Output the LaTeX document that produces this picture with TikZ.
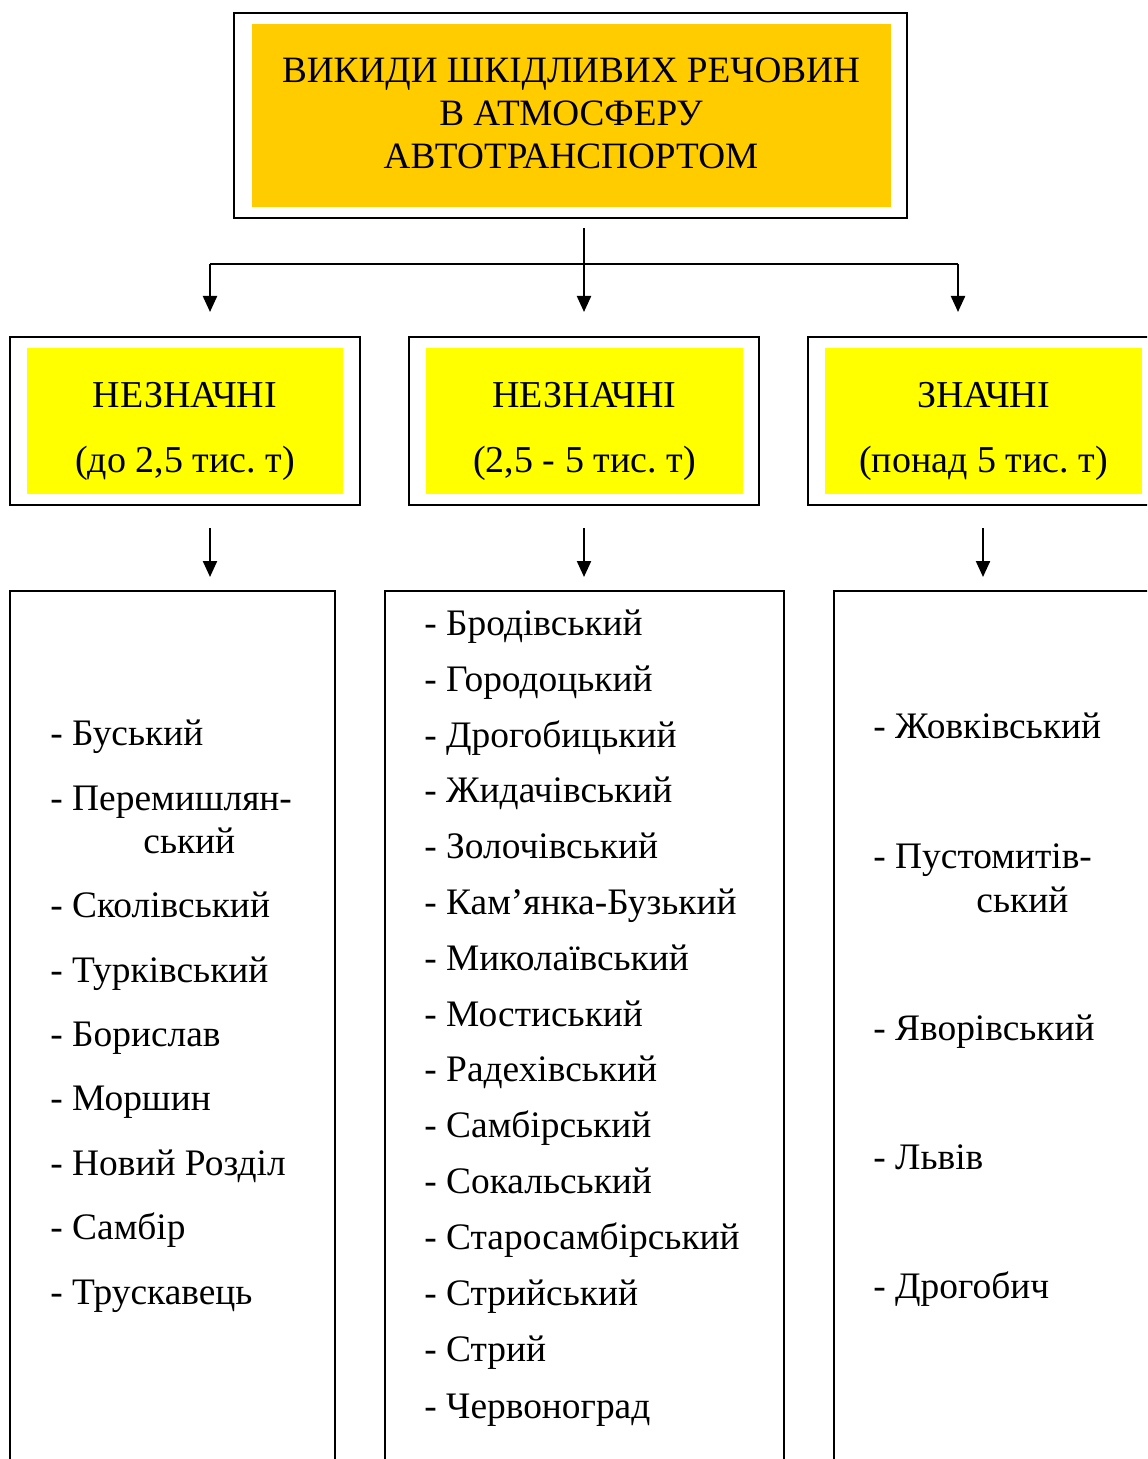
\documentclass[tikz,border=0pt]{standalone}
\usepackage{fontspec}
\setmainfont{Liberation Serif}
\usetikzlibrary{arrows.meta}

\definecolor{titleorange}{HTML}{FFCC00}
\definecolor{levelyellow}{HTML}{FFFF00}

\begin{document}
\frenchspacing
\begin{tikzpicture}[x=0.5pt,y=-0.5pt,
  frame/.style={draw, line width=1.4pt, inner sep=0pt},
  listframe/.style={draw, line width=1.1pt, inner sep=0pt},
  plate/.style={inner sep=0pt},
  titletext/.style={anchor=base, inner sep=0pt, font=\fontsize{18.6}{22}\selectfont},
  leveltext/.style={anchor=base, inner sep=0pt, font=\fontsize{19}{23}\selectfont},
  item/.style={anchor=base west, inner sep=0pt, font=\fontsize{18.7}{22}\selectfont},
  link/.style={line width=1.1pt},
  arr/.style={line width=1.1pt, -{Triangle[length=8pt,width=7pt]}}
]
\useasboundingbox (0,0) rectangle (1147,1459);
\clip (0,0) rectangle (1147,1459);

% --- top box ---
\node[frame, minimum width=336.5pt, minimum height=102.5pt] (top) at (570.5,115.5) {};
\node[plate, fill=titleorange, minimum width=319.5pt, minimum height=91.5pt] (topfill) at (571.5,115.5) {};
\node[titletext] (t1) at (571,83) {ВИКИДИ ШКІДЛИВИХ РЕЧОВИН};
\node[titletext] (t2) at (571,126) {В АТМОСФЕРУ};
\node[titletext] (t3) at (571,169) {АВТОТРАНСПОРТОМ};

% --- second level boxes ---
\node[frame, minimum width=175pt, minimum height=84pt] (lowbox) at (185,421) {};
\node[plate, fill=levelyellow, minimum width=158pt, minimum height=73pt] (lowfill) at (185,421) {};
\node[leveltext] (lowA) at (185,408) {НЕЗНАЧНІ};
\node[leveltext] (lowB) at (185,473) {(до 2,5 тис. т)};

\node[frame, minimum width=175pt, minimum height=84pt] (midbox) at (584,421) {};
\node[plate, fill=levelyellow, minimum width=158.5pt, minimum height=73pt] (midfill) at (584.5,421) {};
\node[leveltext] (midA) at (584.5,408) {НЕЗНАЧНІ};
\node[leveltext] (midB) at (584.5,473) {(2,5 - 5 тис. т)};

\node[frame, minimum width=175pt, minimum height=84pt] (highbox) at (983,421) {};
\node[plate, fill=levelyellow, minimum width=158.5pt, minimum height=73pt] (highfill) at (983.5,421) {};
\node[leveltext] (highA) at (983.5,408) {ЗНАЧНІ};
\node[leveltext] (highB) at (983.5,473) {(понад 5 тис. т)};

% --- connectors from the top box ---
\coordinate (stem) at (584,228);
\coordinate (fork) at (584,264);
\coordinate (forkL) at (210,264);
\coordinate (forkR) at (958,264);
\coordinate (tipL) at (210,312);
\coordinate (tipM) at (584,312);
\coordinate (tipR) at (958,312);
\draw[link] (stem) -- (fork);
\draw[link] (forkL) -- (forkR);
\draw[arr] (forkL) -- (tipL);
\draw[arr] (fork) -- (tipM);
\draw[arr] (forkR) -- (tipR);

% --- connectors to the lists ---
\coordinate (lowS) at (210,528);  \coordinate (lowE) at (210,577);
\coordinate (midS) at (584,528);  \coordinate (midE) at (584,577);
\coordinate (highS) at (983,528); \coordinate (highE) at (983,577);
\draw[arr] (lowS) -- (lowE);
\draw[arr] (midS) -- (midE);
\draw[arr] (highS) -- (highE);

% --- list boxes (open below the page edge) ---
\node[listframe, minimum width=162.5pt, minimum height=460pt, anchor=north] (lowlist) at (172.5,590) {};
\node[listframe, minimum width=199.5pt, minimum height=460pt, anchor=north] (midlist) at (584.5,590) {};
\node[listframe, minimum width=200pt, minimum height=460pt, anchor=north west] (highlist) at (833,590) {};

% --- districts with small emissions ---
\node[item] (l1) at (50,745) {- Буський};
\node[item] (l2) at (50,810) {- Перемишлян-};
\node[item] (l2b) at (143,853) {ський};
\node[item] (l3) at (50,917) {- Сколівський};
\node[item] (l4) at (50,982) {- Турківський};
\node[item] (l5) at (50,1046) {- Борислав};
\node[item] (l6) at (50,1110) {- Моршин};
\node[item] (l7) at (50,1175) {- Новий Розділ};
\node[item] (l8) at (50,1239) {- Самбір};
\node[item] (l9) at (50,1304) {- Трускавець};

% --- districts with medium emissions ---
\node[item] (m1) at (424,635) {- Бродівський};
\node[item] (m2) at (424,691) {- Городоцький};
\node[item] (m3) at (424,747) {- Дрогобицький};
\node[item] (m4) at (424,802) {- Жидачівський};
\node[item] (m5) at (424,858) {- Золочівський};
\node[item] (m6) at (424,914) {- Кам’янка-Бузький};
\node[item] (m7) at (424,970) {- Миколаївський};
\node[item] (m8) at (424,1026) {- Мостиський};
\node[item] (m9) at (424,1081) {- Радехівський};
\node[item] (m10) at (424,1137) {- Самбірський};
\node[item] (m11) at (424,1193) {- Сокальський};
\node[item] (m12) at (424,1249) {- Старосамбірський};
\node[item] (m13) at (424,1305) {- Стрийський};
\node[item] (m14) at (424,1361) {- Стрий};
\node[item] (m15) at (424,1418) {- Червоноград};

% --- districts with large emissions ---
\node[item] (r1) at (873,738) {- Жовківський};
\node[item] (r2) at (873,868) {- Пустомитів-};
\node[item] (r2b) at (976,912) {ський};
\node[item] (r3) at (873,1040) {- Яворівський};
\node[item] (r4) at (873,1169) {- Львів};
\node[item] (r5) at (873,1298) {- Дрогобич};
\end{tikzpicture}
\end{document}
